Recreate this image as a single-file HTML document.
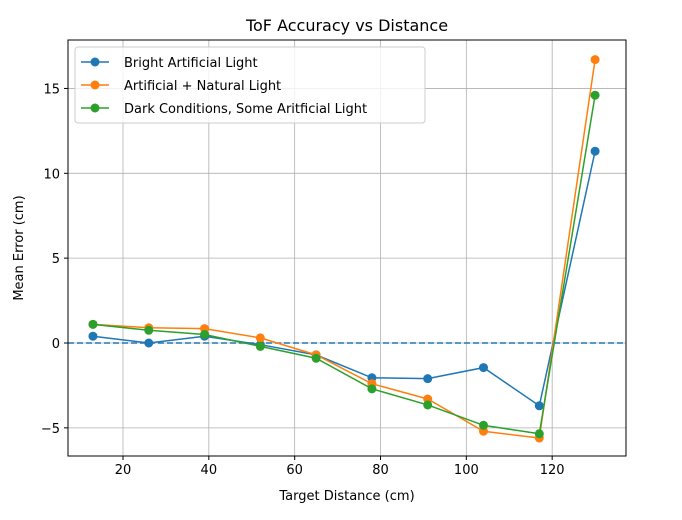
<!DOCTYPE html><html><head><style>body{margin:0;background:#fff}svg{display:block}text{font-family:"DejaVu Sans","Liberation Sans",sans-serif;fill:#000}</style></head><body>
<svg id="s" width="682" height="520" xmlns="http://www.w3.org/2000/svg"></svg>
<script>
const s=document.getElementById('s');let h='';
const X=x=>123+(x-20)*4.2917, Y=y=>343-y*16.97;
for(let v=20;v<=120;v+=20){h+=`<line x1="${X(v)}" x2="${X(v)}" y1="40" y2="456" stroke="#b0b0b0" stroke-width="0.8"/><line x1="${X(v)}" x2="${X(v)}" y1="456" y2="460" stroke="#000"/><text x="${X(v)}" y="474" font-size="13" text-anchor="middle">${v}</text>`;}
for(let v=-5;v<=15;v+=5){h+=`<line x1="68" x2="626" y1="${Y(v)}" y2="${Y(v)}" stroke="#b0b0b0" stroke-width="0.8"/><line x1="64" x2="68" y1="${Y(v)}" y2="${Y(v)}" stroke="#000"/><text x="60" y="${Y(v)+5}" font-size="13" text-anchor="end">${v<0?'−'+(-v):v}</text>`;}
h+=`<line x1="68" x2="626" y1="${Y(0)}" y2="${Y(0)}" stroke="#1f77b4" stroke-width="1.5" stroke-dasharray="6,3"/>`;
const xs=[13,26,39,52,65,78,91,104,117,130];
const D=[["#1f77b4",[0.4,0.0,0.4,-0.1,-0.7,-2.05,-2.1,-1.45,-3.7,11.3]],["#ff7f0e",[1.1,0.9,0.85,0.3,-0.7,-2.4,-3.3,-5.2,-5.6,16.7]],["#2ca02c",[1.1,0.75,0.5,-0.2,-0.9,-2.7,-3.65,-4.85,-5.35,14.6]]];
for(const [c,ys] of D){h+=`<polyline fill="none" stroke="${c}" stroke-width="1.5" points="${xs.map((x,i)=>X(x)+','+Y(ys[i])).join(' ')}"/>`;xs.forEach((x,i)=>h+=`<circle cx="${X(x)}" cy="${Y(ys[i])}" r="4.5" fill="${c}"/>`);}
h+=`<rect x="68" y="40" width="558" height="416" fill="none" stroke="#000" stroke-width="1"/>`;
h+=`<text x="347" y="31" font-size="16" text-anchor="middle">ToF Accuracy vs Distance</text><text x="347" y="500" font-size="13" text-anchor="middle">Target Distance (cm)</text><text transform="translate(23,248) rotate(-90)" font-size="13" text-anchor="middle">Mean Error (cm)</text>`;
h+=`<rect x="75" y="47" width="350" height="76" rx="3" fill="#fff" fill-opacity="0.8" stroke="#ccc"/>`;
const L=["Bright Artificial Light","Artificial + Natural Light","Dark Conditions, Some Aritficial Light"];
L.forEach((t,i)=>{const y=62+i*23;h+=`<line x1="81" x2="109" y1="${y}" y2="${y}" stroke="${D[i][0]}" stroke-width="1.5"/><circle cx="95" cy="${y}" r="4.5" fill="${D[i][0]}"/><text x="124" y="${y+5}" font-size="13">${t}</text>`;});
s.innerHTML=h;
</script></body></html>
